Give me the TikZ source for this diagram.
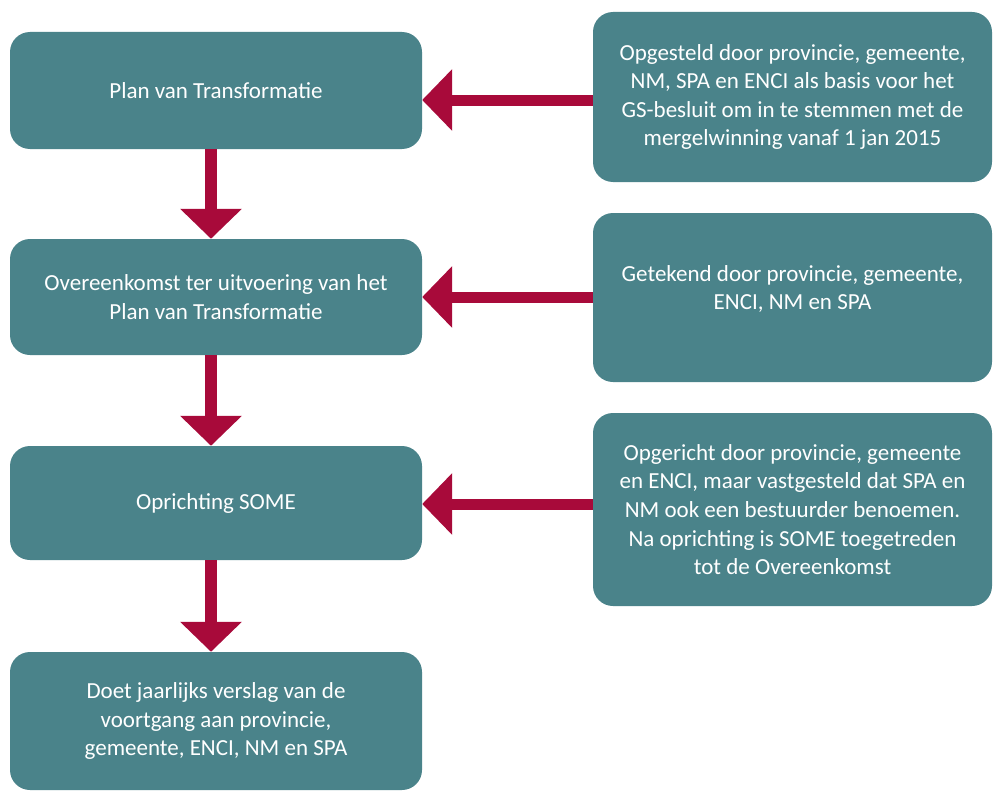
\documentclass[tikz,border=0pt]{standalone}
\usepackage{fontspec}
\setmainfont{Carlito}
\usetikzlibrary{arrows.meta}
\definecolor{teal}{HTML}{4A838A}
\definecolor{crim}{HTML}{A80A3A}
\tikzset{
  box/.style={fill=teal, draw=none, rounded corners=20pt, text=white, align=center,
    font=\fontsize{23}{28.6}\selectfont, inner sep=0pt},
  lbox/.style={box, minimum width=412pt},
  rbox/.style={box, minimum width=399pt},
  flow/.style={draw=crim, line width=12pt, -{Triangle[width=60pt,length=30pt]}, shorten >=0pt},
}
\begin{document}
\begin{tikzpicture}[x=1pt,y=-1pt]
\useasboundingbox (0,0) rectangle (993,792);
\node[lbox, minimum height=117pt] (l1) at (216,90.5) {Plan van Transformatie};
\node[lbox, minimum height=116pt] (l2) at (216,297) {Overeenkomst ter uitvoering van het\\Plan van Transformatie};
\node[lbox, minimum height=114pt] (l3) at (216,503) {Oprichting SOME};
\node[lbox, minimum height=138pt] (l4) at (216,721) {Doet jaarlijks verslag van de\\voortgang aan provincie,\\gemeente, ENCI, NM en SPA};
\node[rbox, minimum height=170pt] (r1) at (792.5,97) {Opgesteld door provincie, gemeente,\\NM, SPA en ENCI als basis voor het\\GS-besluit om in te stemmen met de\\mergelwinning vanaf 1 jan 2015};
\node[rbox, minimum height=169pt] (r2) at (792.5,297.5) {Getekend door provincie, gemeente,\\ENCI, NM en SPA\\[-9pt]};
\node[rbox, minimum height=193pt] (r3) at (792.5,509.5) {Opgericht door provincie, gemeente\\en ENCI, maar vastgesteld dat SPA en\\NM ook een bestuurder benoemen.\\Na oprichting is SOME toegetreden\\tot de Overeenkomst};
\draw[flow] (l1.south -| 211,0) -- (l2.north -| 211,0);
\draw[flow] (l2.south -| 211,0) -- (l3.north -| 211,0);
\draw[flow] (l3.south -| 211,0) -- (l4.north -| 211,0);
\draw[flow, line width=11pt] (r1.west |- 0,100) -- (l1.east |- 0,100);
\draw[flow, line width=11pt] (r2.west |- 0,297) -- (l2.east |- 0,297);
\draw[flow, line width=11pt] (r3.west |- 0,504) -- (l3.east |- 0,504);
\end{tikzpicture}
\end{document}
